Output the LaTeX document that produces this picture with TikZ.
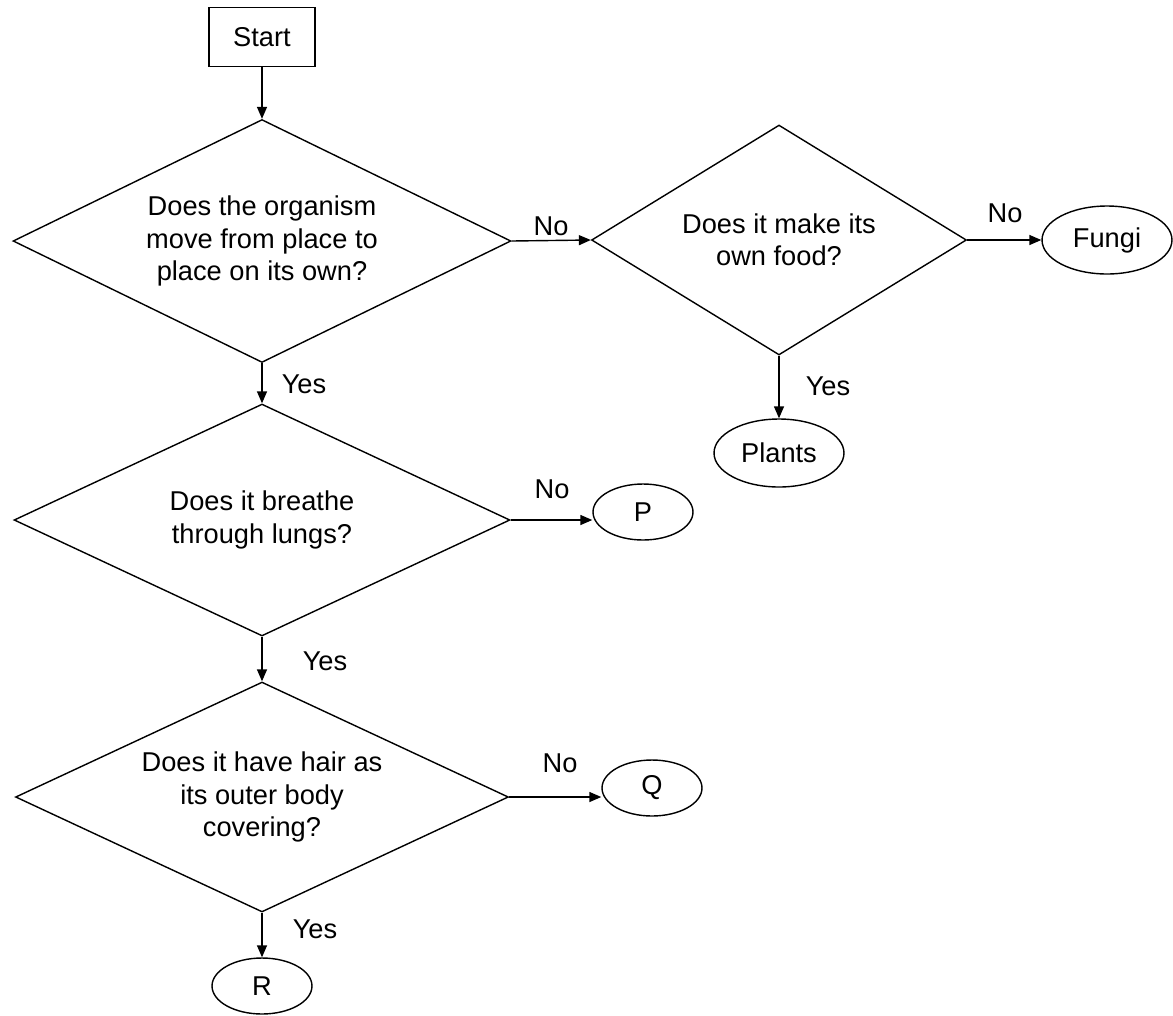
\documentclass[tikz,border=0pt]{standalone}
\usepackage{fontspec}
\setmainfont{Liberation Sans}
\usetikzlibrary{arrows.meta,positioning,shapes.geometric}

\begin{document}
\begin{tikzpicture}[x=0.02cm, y=-0.02cm,
  font=\fontsize{15.5}{18.5}\selectfont,
  every node/.style={inner sep=0pt},
  ques/.style={diamond, draw, line width=0.8pt, align=center, shape aspect=2},
  leaf/.style={ellipse, draw, line width=0.8pt, minimum width=2cm, minimum height=1.12cm},
  bigleaf/.style={leaf, minimum width=2.6cm, minimum height=1.36cm},
  startbox/.style={rectangle, draw, line width=0.8pt, minimum width=2.12cm, minimum height=1.18cm},
  arr/.style={-{Triangle[length=2.4mm, width=2mm]}, line width=0.8pt}]
  \useasboundingbox (0,0) rectangle (1173,1015);
  % start and the first question
  \node[startbox] (start) at (262,37) {Start};
  \node[ques, minimum width=9.96cm, minimum height=4.86cm] (move) at (262,241)
    {Does the organism\\move from place to\\place on its own?};
  % right branch
  \node[ques, minimum width=7.5cm, minimum height=4.6cm] (food) at (779,240)
    {Does it make its\\own food?};
  \node[bigleaf] (fungi) at (1107,240) {Fungi};
  \node[bigleaf] (plants) at (779,453) {Plants};
  % left column
  \node[ques, minimum width=9.92cm, minimum height=4.64cm] (lungs) at (262,520)
    {Does it breathe\\through lungs?};
  \node[leaf] (p) at (643,512) {P};
  \node[ques, minimum width=9.86cm, minimum height=4.6cm] (hair) at (262,797)
    {Does it have hair as\\its outer body\\covering?};
  \node[leaf] (q) at (652,788) {Q};
  \node[leaf] (r) at (262,986) {R};
  % answers
  \node (no1) at (551,226) {No};
  \node (no2) at (1005,213) {No};
  \node (yes2) at (828,386) {Yes};
  \node (yes1) at (304,384) {Yes};
  \node (no3) at (552,489) {No};
  \node (yes3) at (325,661) {Yes};
  \node (no4) at (560,763) {No};
  \node (yes4) at (315,929) {Yes};
  % connectors
  \draw[arr] (start) -- (move.north);
  \draw[arr] (move.east) -- (food.west);
  \draw[arr] (food.east) -- (fungi.west);
  \draw[arr] (food.south) -- (plants.north);
  \draw[arr] (move.south) -- (lungs.north);
  \draw[arr] (lungs.east) -- (lungs.east -| p.west);
  \draw[arr] (lungs.south) -- (hair.north);
  \draw[arr] (hair.east) -- (hair.east -| q.west);
  \draw[arr] (hair.south) -- (r.north);
\end{tikzpicture}
\end{document}
